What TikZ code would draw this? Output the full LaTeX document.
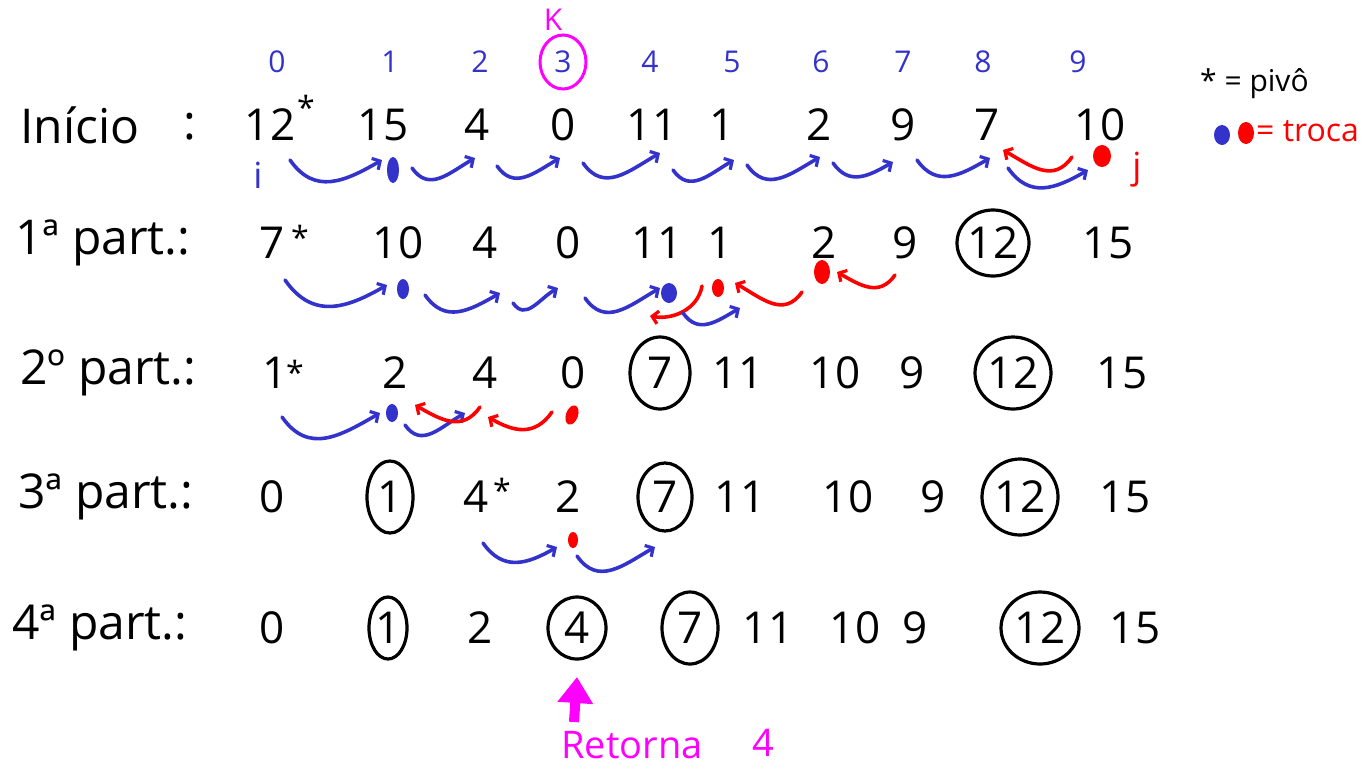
\documentclass[tikz,border=0pt]{standalone}
\usepackage{fontspec}
\setmainfont{Open Sans}
\usetikzlibrary{arrows.meta}
\definecolor{pen}{RGB}{51,51,204}
\definecolor{rd}{RGB}{255,0,0}
\definecolor{hot}{RGB}{255,0,255}
\begin{document}
\begin{tikzpicture}[x=1pt,y=1pt,
  num/.style={font=\fontsize{44}{46}\selectfont, inner sep=0pt},
  lab/.style={font=\fontsize{48}{50}\selectfont, inner sep=0pt},
  idx/.style={font=\fontsize{30}{32}\selectfont, text=pen, inner sep=0pt},
  star/.style={font=\fontsize{32}{34}\selectfont, inner sep=0pt},
  ring/.style={draw=black, line width=3.2pt},
  barrow/.style={draw=pen, line width=3.6pt, line cap=round,
    -{Straight Barb[length=6pt,width=13pt,line width=3.2pt]}},
  rarrow/.style={barrow, draw=rd},
  rt/.style={out=-55,in=-150,looseness=1.2},
  lf/.style={out=-125,in=-30,looseness=1.2}]
\useasboundingbox (0,0) rectangle (1371,-769);

% array indices
\foreach \t/\x [count=\k from 0] in {0/277,1/390,2/480,3/563,4/650,5/732,6/821,7/903,8/983,9/1078}
  \node[idx] (i\k) at (\x,-62) {\t};
\draw[draw=hot, line width=3pt] (i3) ellipse [x radius=23, y radius=27];
\node[font=\fontsize{30}{32}\selectfont, text=hot, inner sep=0pt] (kk) at (553,-20) {K};

% legend
\node[font=\fontsize{30}{32}\selectfont, anchor=west, inner sep=0pt] (piv) at (1200,-84) {* = pivô};
\fill[pen] (1222,-135) ellipse [x radius=8, y radius=10];
\fill[rd] (1246,-133) ellipse [x radius=8, y radius=11];
\node[font=\fontsize{32}{34}\selectfont, text=rd, anchor=west, inner sep=0pt] (troca) at (1256,-131) {= troca};

% row labels
\node[lab] (lab0) at (80,-125) {Início};
\node[lab] (col0) at (190,-127) {:};
\node[lab, anchor=west] (lab1) at (15,-243) {1ª part.:};
\node[lab, anchor=west] (lab2) at (20,-373) {2º part.:};
\node[lab, anchor=west] (lab3) at (18,-497) {3ª part.:};
\node[lab, anchor=west] (lab4) at (12,-628) {4ª part.:};

% row 0
\foreach \t/\x [count=\k from 0] in {12/270,15/383,4/477,0/563,11/652,1/722,2/819,9/903,7/987,10/1100}
  \node[num] (a\k) at (\x,-125) {\t};
\node[star] (s0) at (306,-107) {*};
% row 1
\foreach \t/\x [count=\k from 0] in {7/272,10/398,4/485,0/568,11/657,1/720,2/824,9/905,12/993,15/1108}
  \node[num] (b\k) at (\x,-243) {\t};
\node[star] (s1) at (300,-237) {*};
% row 2
\foreach \t/\x [count=\k from 0] in {1/275,2/395,4/485,0/573,7/660,11/738,10/835,9/912,12/1013,15/1122}
  \node[num] (c\k) at (\x,-373) {\t};
\node[star] (s2) at (295,-372) {*};
% row 3
\foreach \t/\x [count=\k from 0] in {0/272,1/390,4/476,2/568,7/665,11/740,10/848,9/933,12/1020,15/1125}
  \node[num] (d\k) at (\x,-497) {\t};
\node[star] (s3) at (502,-490) {*};
% row 4
\foreach \t/\x [count=\k from 0] in {0/272,1/388,2/480,4/577,7/690,11/768,10/855,9/915,12/1040,15/1135}
  \node[num] (e\k) at (\x,-628) {\t};

% fixed positions
\foreach \n/\rx/\ry in {b8/36/33, c4/30/36, c8/38/36, d1/23/36, d4/27/34, d8/38/38,
                        e1/19/31, e3/29/31, e4/28/36, e8/39/36}
  \draw[ring] (\n) ellipse [x radius=\rx, y radius=\ry];

% pointers
\node[idx, font=\fontsize{36}{38}\selectfont] (ii) at (258,-175) {i};
\node[idx, font=\fontsize{36}{38}\selectfont, text=rd] (jj) at (1137,-170) {j};

% row 0 scan
\draw[barrow] (290,-160) to[rt] (382,-160);
\fill[pen] (393,-170) ellipse [x radius=6, y radius=13];
\draw[barrow] (412,-168) to[rt] (475,-158);
\draw[barrow] (497,-166) to[rt] (560,-158);
\draw[barrow] (583,-163) to[rt] (660,-153);
\draw[barrow] (673,-170) to[rt] (734,-160);
\draw[barrow] (747,-165) to[rt] (820,-157);
\draw[barrow] (833,-163) to[rt] (893,-162);
\draw[barrow] (917,-160) to[rt] (990,-158);
\draw[barrow] (1008,-168) to[rt] (1088,-170);
\draw[rarrow] (1072,-157) to[lf] (1003,-150);
\fill[rd] (1102,-156) ellipse [x radius=9, y radius=11];

% row 1 scan
\draw[barrow] (285,-280) to[rt] (387,-285);
\fill[pen] (403,-289) ellipse [x radius=6, y radius=10];
\draw[barrow] (425,-295) to[rt] (500,-293);
\draw[barrow] (513,-303) to[rt] (558,-288);
\draw[barrow] (585,-298) to[rt] (660,-288);
\fill[pen] (669,-293) ellipse [x radius=8, y radius=10];
\draw[rarrow] (702,-286) to[out=-100,in=-10] (650,-316);
\draw[barrow] (683,-313) to[rt] (740,-308);
\fill[rd] (718,-288) ellipse [x radius=6, y radius=9];
\draw[rarrow] (802,-292) to[lf] (735,-283);
\fill[rd] (822,-272) ellipse [x radius=8, y radius=12];
\draw[rarrow] (895,-275) to[lf] (837,-272);

% row 2 scan
\draw[barrow] (282,-417) to[rt] (380,-413);
\fill[pen] (392,-413) ellipse [x radius=6, y radius=9];
\draw[barrow] (405,-425) to[rt] (465,-413);
\draw[rarrow] (480,-407) to[lf] (415,-405);
\draw[rarrow] (552,-412) to[lf] (488,-417);
\fill[rd, rotate around={-20:(572,-415)}] (572,-415) ellipse [x radius=6, y radius=10];

% row 3 scan
\draw[barrow] (483,-543) to[rt] (557,-547);
\fill[rd] (573,-540) ellipse [x radius=5, y radius=8];
\draw[barrow] (577,-556) to[rt] (655,-547);

% result
\node[font=\fontsize{38}{40}\selectfont, text=hot, inner sep=0pt] (ret) at (632,-745) {Retorna};
\node[font=\fontsize{38}{40}\selectfont, text=hot, inner sep=0pt] (retv) at (763,-743) {4};
\coordinate (rettail) at (574,-722);
\coordinate (rettip) at (577,-677);
\draw[draw=hot, line width=10pt, -{Triangle[length=26pt,width=34pt]}] (rettail) -- (rettip);
\end{tikzpicture}
\end{document}
